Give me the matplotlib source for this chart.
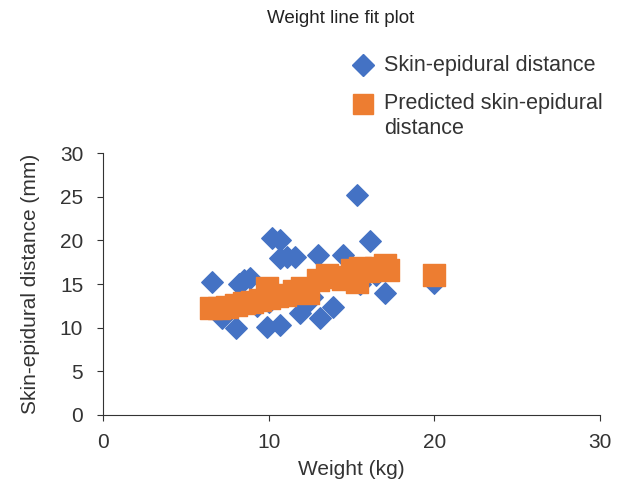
import numpy as np
import matplotlib.pyplot as plt
from matplotlib.lines import Line2D

plt.rcParams['font.family'] = ['Liberation Sans', 'DejaVu Sans']

# observed skin-epidural distance vs weight
weight = [6.6, 7.2, 8.0, 8.2, 8.5, 8.9, 9.9, 10.2, 10.7, 10.7, 10.7,
          11.1, 11.6, 11.9, 12.4, 13.0, 13.1, 13.9, 14.5, 15.3, 16.1, 17.0, 20.0,
          7.5, 9.3, 10.0, 11.2, 12.6, 15.5, 16.5]
distance = [15.2, 11.1, 10.0, 15.0, 15.5, 15.7, 10.1, 20.3, 20.0, 10.3, 18.0,
            18.1, 18.1, 11.7, 13.0, 18.3, 11.1, 12.4, 18.3, 25.2, 19.9, 14.0, 15.1,
            12.0, 12.5, 13.0, 14.0, 13.5, 15.0, 16.0]

# predicted values from the fit
pred_weight = [6.5, 7.0, 7.5, 8.0, 8.5, 9.0, 9.5, 9.9, 10.0, 10.5, 11.0, 11.5,
               12.0, 12.4, 13.0, 13.5, 14.0, 14.5, 15.0, 15.3, 15.5, 16.0, 16.5,
               17.0, 17.2, 20.0]
pred_distance = [12.2, 12.3, 12.4, 12.6, 12.8, 13.0, 13.2, 14.5, 13.4, 13.6, 13.8, 14.2,
                 14.6, 14.0, 15.5, 16.0, 15.8, 15.6, 16.6, 15.2, 16.8, 16.5, 16.8,
                 17.2, 16.6, 16.0]

blue = '#4472C4'
orange = '#ED7D31'
txt = '#333333'

fig = plt.figure(figsize=(6.19, 4.94), dpi=100)
ax = fig.add_axes([0.1664, 0.16, 0.803, 0.530])

ax.scatter(weight, distance, marker='D', s=120, color=blue, zorder=2)
ax.scatter(pred_weight, pred_distance, marker='s', s=270, color=orange, zorder=3)

ax.set_xlim(0, 30)
ax.set_ylim(0, 30)
ax.set_xticks([0, 10, 20, 30])
ax.set_yticks([0, 5, 10, 15, 20, 25, 30])
ax.spines['top'].set_visible(False)
ax.spines['right'].set_visible(False)
for s in ['left', 'bottom']:
    ax.spines[s].set_color(txt)
ax.tick_params(labelsize=15, colors=txt, length=4.3)
ax.tick_params(axis='y', pad=10)
ax.tick_params(axis='x', pad=8.5)

ax.set_xlabel('Weight (kg)', fontsize=15, color=txt, labelpad=6)
ax.set_ylabel('Skin-epidural distance (mm)', fontsize=15, color=txt, labelpad=14)

fig.text(0.55, 0.963, 'Weight line fit plot', ha='center', va='center', fontsize=13.5,
         color='#222222')

# legend drawn in figure coordinates
W, H = 619, 494
fig.add_artist(Line2D([363 / W], [1 - 65 / H], transform=fig.transFigure,
                      marker='D', markersize=11, color=blue, linestyle='none'))
fig.add_artist(Line2D([363 / W], [1 - 104 / H], transform=fig.transFigure,
                      marker='s', markersize=14, color=orange, linestyle='none'))
fig.text(384 / W, 1 - 65 / H, 'Skin-epidural distance', fontsize=15.5, color=txt,
         va='center', ha='left')
fig.text(384 / W, 1 - 93 / H, 'Predicted skin-epidural\ndistance', fontsize=15.5,
         color=txt, va='top', ha='left', linespacing=1.22)

fig.savefig('out.png', dpi=100)
